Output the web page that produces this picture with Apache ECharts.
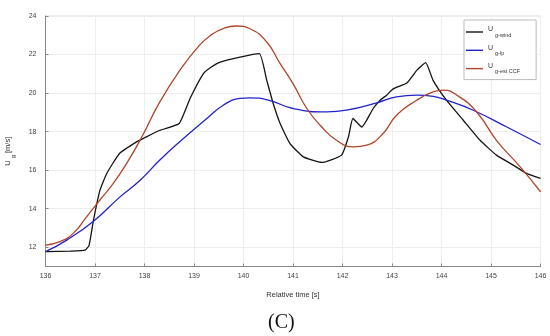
<!DOCTYPE html>
<html>
<head>
<meta charset="utf-8">
<script src="https://cdn.jsdelivr.net/npm/echarts@6/dist/echarts.min.js"></script>
<style>html,body{margin:0;padding:0;background:#fff;}#c{width:550px;height:336px;}</style>
</head>
<body>
<div id="c"></div>
<script>
// ---- data ----
const seriesNames = ['g-wind', 'g-lp', 'g-est CCF'];
const xTicks = [136, 137, 138, 139, 140, 141, 142, 143, 144, 145, 146];
const yTicks = [12, 14, 16, 18, 20, 22, 24];

const windT = [136.0, 136.5, 136.8, 136.88, 136.97, 137.1, 137.24, 137.5, 137.84, 138.0, 138.31, 138.7, 138.92, 139.19, 139.35, 139.53, 139.93, 140.32, 140.47, 140.6, 140.74, 140.94, 141.21, 141.58, 141.98, 142.12, 142.21, 142.39, 142.62, 142.76, 142.89, 143.03, 143.3, 143.5, 143.68, 143.83, 144.1, 144.44, 144.78, 145.11, 145.45, 145.72, 146.0];
const windV = [11.77, 11.8, 11.85, 12.1, 13.41, 14.96, 15.84, 16.88, 17.47, 17.68, 18.07, 18.42, 19.72, 21.01, 21.35, 21.61, 21.87, 22.05, 20.66, 19.46, 18.42, 17.38, 16.69, 16.4, 16.78, 17.73, 18.68, 18.24, 19.2, 19.63, 19.89, 20.23, 20.52, 21.18, 21.58, 20.66, 19.63, 18.59, 17.55, 16.78, 16.26, 15.83, 15.57];

const lpT = [136.0, 136.43, 136.97, 137.5, 137.9, 138.3, 138.7, 139.26, 139.59, 139.93, 140.13, 140.5, 141.0, 141.68, 142.08, 142.69, 143.09, 143.5, 143.83, 144.1, 144.64, 145.32, 146.0];
const lpV = [11.77, 12.37, 13.35, 14.6, 15.45, 16.5, 17.45, 18.68, 19.37, 19.72, 19.75, 19.64, 19.2, 19.02, 19.11, 19.49, 19.8, 19.89, 19.83, 19.63, 19.11, 18.24, 17.33];

const estT = [136.0, 136.29, 136.56, 136.83, 137.1, 137.37, 137.64, 137.91, 138.31, 138.72, 139.1, 139.35, 139.6, 139.86, 140.13, 140.47, 140.74, 141.0, 141.28, 141.55, 141.88, 142.22, 142.49, 142.82, 143.09, 143.5, 143.83, 144.04, 144.31, 144.71, 145.11, 145.59, 146.0];
const estV = [12.11, 12.29, 12.72, 13.58, 14.45, 15.31, 16.35, 17.55, 19.54, 21.2, 22.45, 23.02, 23.36, 23.48, 23.34, 22.65, 21.53, 20.49, 19.2, 18.33, 17.55, 17.21, 17.3, 17.9, 18.85, 19.63, 20.06, 20.15, 19.89, 19.02, 17.55, 16.17, 14.88];

function pairs(t, v) { return t.map((x, i) => [x, v[i]]); }

const FONT = 'Liberation Sans, Arial, sans-serif';
const chart = echarts.init(document.getElementById('c'), null, {renderer: 'canvas'});

const legendRich = {
  u: {fontSize: 7, color: '#333', fontFamily: FONT, padding: [0, 0, 5, 0]},
  s: {fontSize: 5.5, color: '#333', fontFamily: FONT, padding: [6, 0, 0, 2]}
};

chart.setOption({
  animation: false,
  backgroundColor: '#fff',
  grid: {left: 45.5, right: 9.5, top: 16, bottom: 69.5, show: true, borderColor: '#dcdcdc', borderWidth: 1,
         containLabel: false, outerBoundsMode: 'none'},
  legend: {
    orient: 'vertical',
    left: 464, top: 20,
    padding: [6, 16, 5, 2],
    itemGap: 6.3,
    icon: 'rect',
    itemWidth: 17, itemHeight: 1.4,
    backgroundColor: '#fff',
    borderColor: '#bbb', borderWidth: 1,
    data: seriesNames,
    formatter: function (n) { return '{u|U}{s|' + n + '}'; },
    textStyle: {rich: legendRich}
  },
  xAxis: {
    type: 'value', min: 136, max: 146, interval: 1,
    name: 'Relative time [s]', nameLocation: 'middle', nameGap: 24,
    nameTextStyle: {fontSize: 7.5, color: '#333', fontFamily: FONT},
    axisLine: {show: true, onZero: false, lineStyle: {color: '#888', width: 1}},
    axisTick: {show: true, inside: true, length: 3, lineStyle: {color: '#888'}},
    axisLabel: {fontSize: 7, color: '#444', fontFamily: FONT, margin: 6},
    splitLine: {show: true, lineStyle: {color: '#eeeeee', width: 1}}
  },
  yAxis: {
    type: 'value', min: 11, max: 24,
    name: '{u|U}{s|g}{m|[m/s]}', nameLocation: 'middle', nameGap: 29, nameRotate: 90,
    nameTextStyle: {rich: {
      u: {fontSize: 7.5, color: '#333', fontFamily: FONT, padding: [0, 0, 5, 0]},
      s: {fontSize: 6, color: '#333', fontFamily: FONT, padding: [7, 2, 0, 2]},
      m: {fontSize: 7.5, color: '#333', fontFamily: FONT, padding: [0, 20, 5, 0]}
    }},
    axisLine: {show: true, lineStyle: {color: '#888', width: 1}},
    axisTick: {show: true, inside: true, length: 3, lineStyle: {color: '#888'}, customValues: yTicks},
    axisLabel: {fontSize: 7, color: '#444', fontFamily: FONT, margin: 9, customValues: yTicks},
    splitLine: {show: true, lineStyle: {color: '#eeeeee', width: 1}}
  },
  graphic: [{
    type: 'text', left: 268, top: 313,
    style: {text: '(C)', fontSize: 20, fontFamily: 'Liberation Serif, DejaVu Serif, serif', fill: '#111'}
  }],
  series: [
    {name: seriesNames[0], type: 'line', data: pairs(windT, windV), symbol: 'none', smooth: 0.15,
     lineStyle: {color: '#141414', width: 1.3}, itemStyle: {color: '#141414'}},
    {name: seriesNames[1], type: 'line', data: pairs(lpT, lpV), symbol: 'none', smooth: true,
     lineStyle: {color: '#2222cc', width: 1.3}, itemStyle: {color: '#2222cc'}},
    {name: seriesNames[2], type: 'line', data: pairs(estT, estV), symbol: 'none', smooth: true,
     lineStyle: {color: '#b0452c', width: 1.3}, itemStyle: {color: '#b0452c'}}
  ]
});
</script>
</body>
</html>
